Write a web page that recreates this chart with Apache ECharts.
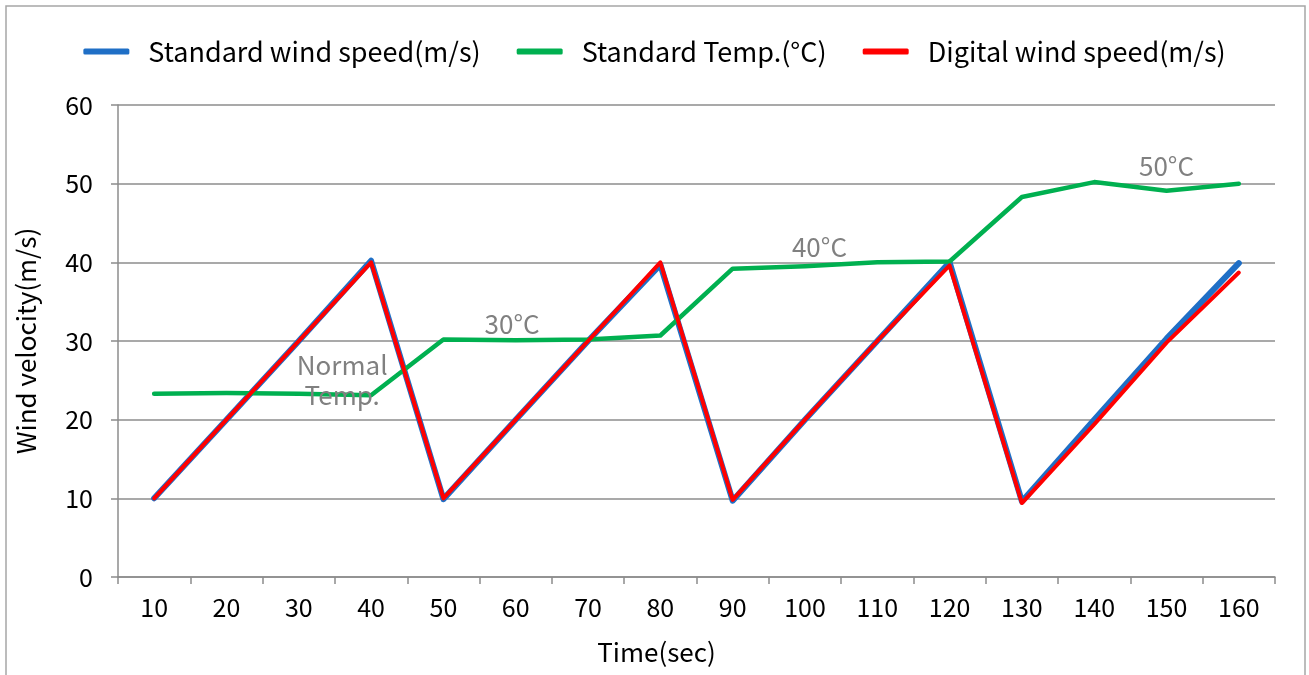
<!DOCTYPE html>
<html>
<head>
<meta charset="utf-8">
<script src="https://cdn.jsdelivr.net/npm/echarts@6/dist/echarts.min.js"></script>
<style>
html,body{margin:0;padding:0;background:#fff;}
#main{width:1309px;height:675px;}
</style>
</head>
<body>
<div id="main"></div>
<script>
const categories = ['10','20','30','40','50','60','70','80','90','100','110','120','130','140','150','160'];
const standardWind = [10, 20, 30, 40.2, 9.9, 20, 30, 39.7, 9.7, 20, 30, 40, 9.6, 20, 30.3, 39.9];
const standardTemp = [23.3, 23.4, 23.3, 23.1, 30.2, 30.1, 30.2, 30.7, 39.2, 39.5, 40.0, 40.1, 48.3, 50.2, 49.1, 50.0];
const digitalWind = [10, 20, 30, 40, 10, 20, 30, 40, 9.8, 20, 30, 39.6, 9.4, 19.4, 29.8, 38.7];
const yTicks = [0, 10, 20, 30, 40, 50, 60];
// annotation texts with anchor positions in data space (category index, value)
const annotations = [
  {text: 'Normal\nTemp.', idx: 2.6, val: 25.0},
  {text: '30°C', idx: 4.95, val: 32.1},
  {text: '40°C', idx: 9.2, val: 41.9},
  {text: '50°C', idx: 14.0, val: 52.2}
];

const FONT = '"Noto Sans CJK KR", "Noto Sans", sans-serif';
const chart = echarts.init(document.getElementById('main'));
const option = {
  backgroundColor: '#fff',
  animation: false,
  textStyle: {fontFamily: FONT},
  legend: {
    top: 33,
    left: 'center',
    itemWidth: 46,
    itemHeight: 6,
    itemGap: 36,
    icon: 'roundRect',
    textStyle: {fontFamily: FONT, fontSize: 27, color: '#000', padding: [0, 0, 0, 14]},
    data: ['Standard wind speed(m/s)', 'Standard Temp.(°C)', 'Digital wind speed(m/s)']
  },
  grid: {left: 118, right: 34, top: 105, bottom: 98},
  xAxis: {
    type: 'category',
    data: categories,
    boundaryGap: true,
    name: 'Time(sec)',
    nameLocation: 'middle',
    nameGap: 62,
    nameTextStyle: {fontFamily: FONT, fontSize: 26, color: '#000', padding: [0, 80, 0, 0]},
    axisLine: {lineStyle: {color: '#8c8c8c', width: 1.5}},
    axisTick: {show: true, length: 7, lineStyle: {color: '#8c8c8c', width: 1.5}, alignWithLabel: false},
    axisLabel: {fontFamily: FONT, fontSize: 25, color: '#000', margin: 18}
  },
  yAxis: {
    type: 'value',
    min: yTicks[0],
    max: yTicks[yTicks.length - 1],
    interval: 10,
    name: 'Wind velocity(m/s)',
    nameLocation: 'middle',
    nameGap: 79,
    nameTextStyle: {fontFamily: FONT, fontSize: 26, color: '#000'},
    axisLine: {show: true, lineStyle: {color: '#8c8c8c', width: 1.5}},
    axisTick: {show: true, length: 7, lineStyle: {color: '#8c8c8c', width: 1.5}},
    axisLabel: {fontFamily: FONT, fontSize: 25, color: '#000', margin: 25},
    splitLine: {lineStyle: {color: '#8c8c8c', width: 1.5}}
  },
  series: [
    {
      name: 'Standard wind speed(m/s)', type: 'line', data: standardWind,
      symbol: 'none', z: 2,
      lineStyle: {color: '#1f6fc6', width: 6, cap: 'round', join: 'round'},
      itemStyle: {color: '#1f6fc6'}
    },
    {
      name: 'Standard Temp.(°C)', type: 'line', data: standardTemp,
      symbol: 'none', z: 3,
      lineStyle: {color: '#00b050', width: 4.5, cap: 'round', join: 'round'},
      itemStyle: {color: '#00b050'}
    },
    {
      name: 'Digital wind speed(m/s)', type: 'line', data: digitalWind,
      symbol: 'none', z: 4,
      lineStyle: {color: '#ff0000', width: 4, cap: 'round', join: 'round'},
      itemStyle: {color: '#ff0000'}
    }
  ]
};
chart.setOption(option);

function px(idx, val) {
  const i0 = Math.floor(idx), i1 = Math.min(i0 + 1, categories.length - 1);
  const p0 = chart.convertToPixel({gridIndex: 0}, [i0, val]);
  const p1 = chart.convertToPixel({gridIndex: 0}, [i1, val]);
  const f = idx - i0;
  return [p0[0] + (p1[0] - p0[0]) * f, p0[1]];
}

const graphics = [{
  type: 'rect', shape: {x: 6, y: 6, width: 1299, height: 680}, silent: true,
  style: {fill: 'none', stroke: '#a6a6a6', lineWidth: 1.5}, z: -1
}];
annotations.forEach(a => {
  const p = px(a.idx, a.val);
  graphics.push({
    type: 'text', x: p[0], y: p[1], z: 10,
    style: {text: a.text, fill: '#808080', font: '26px ' + FONT, align: 'center', verticalAlign: 'middle', lineHeight: 30}
  });
});
chart.setOption({graphic: graphics});
</script>
</body>
</html>
